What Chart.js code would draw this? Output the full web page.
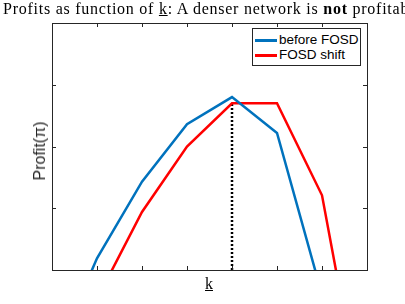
<!DOCTYPE html>
<html>
<head>
<meta charset="utf-8">
<script src="https://cdn.jsdelivr.net/npm/chart.js@4"></script>
<style>
  body { margin: 0; background: #fff; }
  #wrap { position: relative; width: 405px; height: 304px; overflow: hidden; }
  #title { position: absolute; left: 3px; top: 0px; white-space: nowrap; font: 16px "Liberation Serif", serif; letter-spacing: 0.75px; color: #000; }
  #xlab { position: absolute; left: 205px; top: 275px; font: 16px "Liberation Serif", serif; text-decoration: underline; }
  #ylab { position: absolute; left: 40px; top: 151px; transform: translate(-50%, -50%) rotate(-90deg); font: 16px "Liberation Sans", Arial, sans-serif; color: #262626; white-space: nowrap; }
  #legend { position: absolute; left: 252px; top: 28px; width: 107px; height: 36px; border: 1px solid #262626; background: #fff; font: 13.5px "Liberation Sans", Arial, sans-serif; color: #000; }
  .row { position: absolute; left: 2px; height: 14px; line-height: 14px; }
  .sw { display: inline-block; width: 22px; height: 3px; vertical-align: middle; margin-right: 2px; }
</style>
</head>
<body>
<div id="wrap">
  <canvas id="c" width="405" height="304"></canvas>
  <div id="title">Profits as function of <u>k</u>: A denser network is <b>not</b> profitable</div>
  <div id="ylab">Profit(π)</div>
  <div id="xlab">k</div>
  <div id="legend">
    <div class="row" style="top:4px"><span class="sw" style="background:#0072BD"></span>before FOSD</div>
    <div class="row" style="top:19px"><span class="sw" style="background:#FF0000"></span>FOSD shift</div>
  </div>
</div>
<script>
const kValues = [0, 1, 2, 3, 4, 5, 6, 7];
const beforeFOSD = [-1.5, 0.19, 1.43, 2.36, 2.80, 2.22, -0.4, -3];
const fosdShift = [-2, -0.47, 0.94, 2.0, 2.70, 2.70, 1.21, -2.7];
const optimalK = 4;
const optimalProfit = 2.70;
const xTicks = [0, 1, 2, 3, 4, 5, 6, 7];
const yTicks = [0, 1, 2, 3, 4];

// matlab style box with inward ticks
const boxPlugin = {
  id: 'box',
  afterDatasetsDraw(chart) {
    const { ctx, chartArea: a, scales: { x, y } } = chart;
    ctx.save();
    ctx.strokeStyle = '#262626';
    ctx.lineWidth = 1;
    ctx.strokeRect(a.left + 0.5, a.top + 0.5, a.right - a.left, a.bottom - a.top);
    ctx.beginPath();
    for (let t of xTicks) {
      const px = Math.round(x.getPixelForValue(t)) + 0.5;
      ctx.moveTo(px, a.bottom); ctx.lineTo(px, a.bottom - 4);
      ctx.moveTo(px, a.top); ctx.lineTo(px, a.top + 4);
    }
    for (let t of yTicks) {
      const py = Math.round(y.getPixelForValue(t)) + 0.5;
      ctx.moveTo(a.left, py); ctx.lineTo(a.left + 4, py);
      ctx.moveTo(a.right, py); ctx.lineTo(a.right - 4, py);
    }
    ctx.stroke();
    ctx.restore();
  }
};

new Chart(document.getElementById('c'), {
  type: 'line',
  data: {
    datasets: [
      { label: 'before FOSD', data: kValues.map((k, i) => ({ x: k, y: beforeFOSD[i] })), borderColor: '#0072BD', borderWidth: 2.5, pointRadius: 0, tension: 0 },
      { label: 'FOSD shift', data: kValues.map((k, i) => ({ x: k, y: fosdShift[i] })), borderColor: '#FF0000', borderWidth: 2.5, pointRadius: 0, tension: 0 },
      { label: 'optimum', data: [{ x: optimalK, y: 0 }, { x: optimalK, y: optimalProfit }], borderColor: '#000', borderWidth: 2.5, borderDash: [2, 2], pointRadius: 0 }
    ]
  },
  options: {
    responsive: false,
    animation: false,
    layout: { padding: { left: 52, right: 38, top: 23, bottom: 34 } },
    plugins: { legend: { display: false }, tooltip: { enabled: false } },
    scales: {
      x: { type: 'linear', min: 0, max: 7, display: false },
      y: { min: 0, max: 4, display: false }
    }
  },
  plugins: [boxPlugin]
});
</script>
</body>
</html>
